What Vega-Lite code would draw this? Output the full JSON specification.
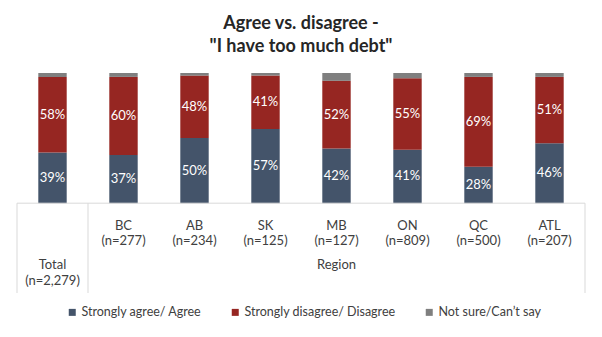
{
  "$schema": "https://vega.github.io/schema/vega-lite/v6.json",
  "width": 568,
  "height": 220,
  "autosize": {"type": "none"},
  "padding": {"left": 17, "right": 17, "top": 73, "bottom": 44},
  "title": {
    "text": ["Agree vs. disagree -", "\"I have too much debt\""],
    "fontSize": 18,
    "fontWeight": "bold",
    "font": "Lato",
    "color": "#262626",
    "lineHeight": 23,
    "offset": 17,
    "anchor": "middle"
  },
  "config": {"view": {"stroke": null}, "font": "Lato"},
  "datasets": {
    "bars": [
      {"cat": "Total", "resp": "Strongly agree/ Agree", "pct": 39},
      {"cat": "Total", "resp": "Strongly disagree/ Disagree", "pct": 58},
      {"cat": "Total", "resp": "Not sure/Can’t say", "pct": 3},
      {"cat": "BC", "resp": "Strongly agree/ Agree", "pct": 37},
      {"cat": "BC", "resp": "Strongly disagree/ Disagree", "pct": 60},
      {"cat": "BC", "resp": "Not sure/Can’t say", "pct": 3},
      {"cat": "AB", "resp": "Strongly agree/ Agree", "pct": 50},
      {"cat": "AB", "resp": "Strongly disagree/ Disagree", "pct": 48},
      {"cat": "AB", "resp": "Not sure/Can’t say", "pct": 2},
      {"cat": "SK", "resp": "Strongly agree/ Agree", "pct": 57},
      {"cat": "SK", "resp": "Strongly disagree/ Disagree", "pct": 41},
      {"cat": "SK", "resp": "Not sure/Can’t say", "pct": 2},
      {"cat": "MB", "resp": "Strongly agree/ Agree", "pct": 42},
      {"cat": "MB", "resp": "Strongly disagree/ Disagree", "pct": 52},
      {"cat": "MB", "resp": "Not sure/Can’t say", "pct": 6},
      {"cat": "ON", "resp": "Strongly agree/ Agree", "pct": 41},
      {"cat": "ON", "resp": "Strongly disagree/ Disagree", "pct": 55},
      {"cat": "ON", "resp": "Not sure/Can’t say", "pct": 4},
      {"cat": "QC", "resp": "Strongly agree/ Agree", "pct": 28},
      {"cat": "QC", "resp": "Strongly disagree/ Disagree", "pct": 69},
      {"cat": "QC", "resp": "Not sure/Can’t say", "pct": 3},
      {"cat": "ATL", "resp": "Strongly agree/ Agree", "pct": 46},
      {"cat": "ATL", "resp": "Strongly disagree/ Disagree", "pct": 51},
      {"cat": "ATL", "resp": "Not sure/Can’t say", "pct": 3}
    ],
    "cats": [
      {"cat": "Total", "n": "(n=2,279)"},
      {"cat": "BC", "n": "(n=277)"},
      {"cat": "AB", "n": "(n=234)"},
      {"cat": "SK", "n": "(n=125)"},
      {"cat": "MB", "n": "(n=127)"},
      {"cat": "ON", "n": "(n=809)"},
      {"cat": "QC", "n": "(n=500)"},
      {"cat": "ATL", "n": "(n=207)"}
    ],
    "one": [{"label": "Region"}]
  },
  "layer": [
    {
      "data": {"name": "bars"},
      "transform": [
        {"calculate": "indexof(['Strongly agree/ Agree','Strongly disagree/ Disagree','Not sure/Can’t say'], datum.resp)", "as": "ord"},
        {"stack": "pct", "groupby": ["cat"], "sort": [{"field": "ord", "order": "ascending"}], "as": ["y0", "y1"]}
      ],
      "mark": {"type": "bar", "width": {"band": 0.4}},
      "encoding": {
        "x": {"field": "cat", "type": "nominal", "axis": null,
              "scale": {"domain": ["Total", "BC", "AB", "SK", "MB", "ON", "QC", "ATL"], "paddingInner": 0, "paddingOuter": 0}},
        "y": {"field": "y1", "type": "quantitative", "axis": null, "scale": {"domain": [-69, 100], "nice": false, "zero": false}},
        "y2": {"field": "y0"},
        "color": {
          "field": "resp", "type": "nominal",
          "scale": {"domain": ["Strongly agree/ Agree", "Strongly disagree/ Disagree", "Not sure/Can’t say"], "range": ["#44546a", "#962622", "#7f7f7f"]},
          "legend": {"orient": "none", "legendX": 49, "legendY": 233, "direction": "horizontal", "title": null,
                     "symbolType": "square", "symbolSize": 49, "symbolStrokeWidth": 0, "labelFontSize": 12.5, "labelColor": "#404040", "labelFont": "Lato", "columnPadding": 27, "labelOffset": 3}
        }
      }
    },
    {
      "data": {"name": "bars"},
      "transform": [
        {"calculate": "indexof(['Strongly agree/ Agree','Strongly disagree/ Disagree','Not sure/Can’t say'], datum.resp)", "as": "ord"},
        {"stack": "pct", "groupby": ["cat"], "sort": [{"field": "ord", "order": "ascending"}], "as": ["y0", "y1"]},
        {"filter": "datum.ord < 2"},
        {"calculate": "(datum.y0 + datum.y1) / 2", "as": "mid"},
        {"calculate": "datum.pct + '%'", "as": "lab"}
      ],
      "mark": {"type": "text", "color": "white", "fontSize": 13, "baseline": "middle"},
      "encoding": {
        "x": {"field": "cat", "type": "nominal"},
        "y": {"field": "mid", "type": "quantitative"},
        "text": {"field": "lab"}
      }
    },
    {
      "data": {"name": "one"},
      "mark": {"type": "rule", "color": "#d9d9d9", "strokeWidth": 1},
      "encoding": {"y": {"datum": 0, "type": "quantitative"}}
    },
    {
      "data": {"name": "one"},
      "mark": {"type": "rule", "color": "#d9d9d9", "strokeWidth": 1},
      "encoding": {
        "x": {"datum": "Total", "type": "nominal", "bandPosition": 0},
        "y": {"datum": 0, "type": "quantitative"},
        "y2": {"datum": -69}
      }
    },
    {
      "data": {"name": "one"},
      "mark": {"type": "rule", "color": "#d9d9d9", "strokeWidth": 1},
      "encoding": {
        "x": {"datum": "BC", "type": "nominal", "bandPosition": 0},
        "y": {"datum": 0, "type": "quantitative"},
        "y2": {"datum": -69}
      }
    },
    {
      "data": {"name": "one"},
      "mark": {"type": "rule", "color": "#d9d9d9", "strokeWidth": 1},
      "encoding": {
        "x": {"datum": "ATL", "type": "nominal", "bandPosition": 1},
        "y": {"datum": 0, "type": "quantitative"},
        "y2": {"datum": -69}
      }
    },
    {
      "data": {"name": "cats"},
      "transform": [{"filter": "datum.cat != 'Total'"}],
      "mark": {"type": "text", "fontSize": 13, "color": "#404040", "baseline": "middle"},
      "encoding": {
        "x": {"field": "cat", "type": "nominal"},
        "y": {"datum": -17.5, "type": "quantitative"},
        "text": {"field": "cat"}
      }
    },
    {
      "data": {"name": "cats"},
      "transform": [{"filter": "datum.cat != 'Total'"}],
      "mark": {"type": "text", "fontSize": 13, "color": "#404040", "baseline": "middle"},
      "encoding": {
        "x": {"field": "cat", "type": "nominal"},
        "y": {"datum": -29, "type": "quantitative"},
        "text": {"field": "n"}
      }
    },
    {
      "data": {"name": "cats"},
      "transform": [{"filter": "datum.cat == 'Total'"}],
      "mark": {"type": "text", "fontSize": 13, "color": "#404040", "baseline": "middle"},
      "encoding": {
        "x": {"field": "cat", "type": "nominal"},
        "y": {"datum": -47.7, "type": "quantitative"},
        "text": {"field": "cat"}
      }
    },
    {
      "data": {"name": "cats"},
      "transform": [{"filter": "datum.cat == 'Total'"}],
      "mark": {"type": "text", "fontSize": 13, "color": "#404040", "baseline": "middle"},
      "encoding": {
        "x": {"field": "cat", "type": "nominal"},
        "y": {"datum": -59.5, "type": "quantitative"},
        "text": {"field": "n"}
      }
    },
    {
      "data": {"name": "one"},
      "mark": {"type": "text", "fontSize": 13, "color": "#404040", "baseline": "middle"},
      "encoding": {
        "x": {"datum": "MB", "type": "nominal"},
        "y": {"datum": -47.7, "type": "quantitative"},
        "text": {"field": "label"}
      }
    }
  ]
}
